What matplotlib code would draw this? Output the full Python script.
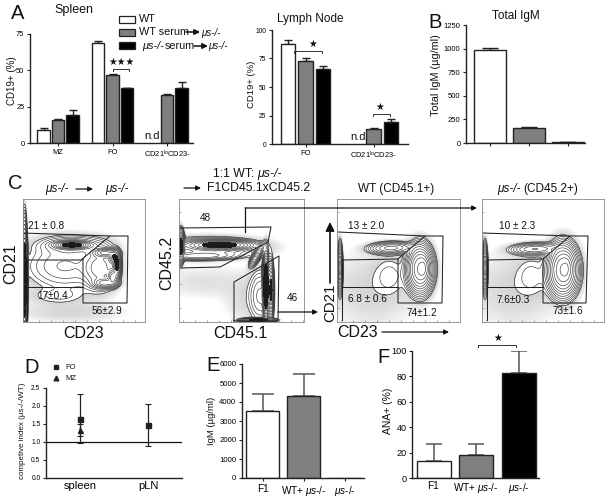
import numpy as np
import matplotlib
matplotlib.use("Agg")
import matplotlib.pyplot as plt
from matplotlib.colors import LinearSegmentedColormap

plt.rcParams['font.family'] = ['Liberation Sans', 'DejaVu Sans']
plt.rcParams['mathtext.fontset'] = 'custom'
plt.rcParams['mathtext.rm'] = 'Liberation Sans'
plt.rcParams['mathtext.it'] = 'Liberation Sans:italic'
plt.rcParams['mathtext.bf'] = 'Liberation Sans:bold'
plt.rcParams['mathtext.default'] = 'regular'

W, H = 610, 498
WHITE, GRAY, BLACK = 'white', '#7f7f7f', 'black'
CAT_COLORS = [WHITE, GRAY, BLACK]

# ---- values -------------------------------------------------------------
spleen_groups = ['MZ', 'FO', 'CD21$^{lo}$CD23-']
spleen_wt = [9, 68.5, None]
spleen_wt_err = [1.2, 2, None]
spleen_wts = [15.5, 46.5, 33]
spleen_wts_err = [0.8, 0.7, 0.5]
spleen_mu = [19, 37.5, 37.5]
spleen_mu_err = [3.5, 0.2, 4.5]

ln_groups = ['FO', 'CD21$^{lo}$CD23-']
ln_wt = [88, None]
ln_wt_err = [3.5, None]
ln_wts = [73, 13]
ln_wts_err = [2.5, 0.6]
ln_mu = [65.5, 19]
ln_mu_err = [2.5, 2.5]

igm_total = [990, 155, 10]
igm_total_err = [15, 17, 2]

ci_labels = ['spleen', 'pLN']
ci_fo = [1.65, 1.47]
ci_fo_low = [0.98, 0.88]
ci_fo_high = [2.32, 2.06]
ci_mz = [1.33]
ci_mz_low = [1.18]
ci_mz_high = [1.50]

igm_labels = ['F1', 'WT+ $\\mathit{μs}$-/-', '$\\mathit{μs}$-/-']
igm_vals = [3550, 4300, 0]
igm_errs = [850, 1150, 0]

ana_labels = ['F1', 'WT+ $\\mathit{μs}$-/-', '$\\mathit{μs}$-/-']
ana_vals = [13.5, 18, 83]
ana_errs = [13.5, 9, 17]

# flow-cytometry populations: centre x, centre y, sd x, sd y, correlation, height
pop_c1 = [(24.5, 280, 1.2, 24, 0, 3), (72, 245, 8, 1.8, 0, 1.5), (72, 245, 18, 5, 0, 0.12),
          (105, 253, 6, 2.2, 0, 0.7), (114, 257, 2.6, 3.5, 0, 0.8), (117, 265, 1.8, 6, 0, 1.2),
          (113, 277, 2.6, 4, 0, 0.8), (105, 283, 6, 2.5, 0, 0.5), (100, 268, 9, 11, 0, 0.25),
          (65, 266, 22, 13, 0, 0.1), (58, 296, 18, 5, 0, 0.03), (70, 312, 30, 6, 0, 0.016)]
pop_c2 = [(181, 246, 1.5, 7, 0, 1.5), (220, 245, 14, 2.2, 0, 1.6), (210, 247, 26, 5, 0, 0.2),
          (200, 256, 20, 2.2, -0.1, 0.25), (257, 255, 3.2, 5, -0.75, 0.7), (266, 286, 1.4, 14, 0, 3),
          (271, 290, 1.3, 13, 0, 1.2), (260, 296, 6, 14, 0, 0.1), (258, 320, 7, 0.9, 0, 2),
          (205, 282, 30, 10, 0, 0.009), (245, 300, 12, 14, 0, 0.012)]
pop_c3 = [(340, 268, 1.2, 11, 0, 0.8), (391, 248, 11, 3, -0.1, 0.35), (420, 269, 6, 11, 0, 1.5),
          (424, 268, 2.5, 6, 0, 0.5), (390, 275, 10, 12, 0, 0.028), (372, 290, 26, 22, 0, 0.016)]
pop_c4 = [(485, 268, 1.2, 11, 0, 0.8), (535, 249, 12, 3, -0.1, 0.3), (563, 270, 7, 12, 0, 1.5),
          (567, 268, 2.5, 7, 0, 0.3), (532, 275, 10, 12, 0, 0.028), (515, 290, 26, 22, 0, 0.016)]

# flow-cytometry gates, polylines in the picture's frame
gates_c1 = [[(23, 233), (110, 236), (81, 260), (27, 260)],
            [(110, 236), (128, 236), (127, 303), (83, 303), (83, 259)],
            [(27, 287), (83, 287)], [(27, 260), (27, 320)]]
gates_c2 = [[(179, 228), (271, 227), (268, 242), (220, 267), (179, 268)],
            [(234, 321), (234, 282), (279, 256), (278, 321), (234, 321)]]
gates_c3 = [[(338, 232), (425, 236), (398, 259), (342, 260)],
            [(425, 236), (443, 236), (442, 303), (398, 303), (398, 259)],
            [(342, 287), (398, 287)], [(342, 260), (342, 320)]]
gates_c4 = [[(483, 233), (570, 236), (543, 259), (487, 260)],
            [(570, 236), (588, 236), (586, 303), (543, 303), (543, 259)],
            [(487, 287), (543, 287)], [(487, 260), (487, 320)]]

fig = plt.figure(figsize=(W / 100, H / 100), dpi=100, facecolor='white')


def axes_px(x0, y0, x1, y1, **kw):
    return fig.add_axes([x0 / W, 1 - y1 / H, (x1 - x0) / W, (y1 - y0) / H], **kw)


def style(ax, lw=1.0, size=5.4):
    for s in ('top', 'right'):
        ax.spines[s].set_visible(False)
    for s in ('left', 'bottom'):
        ax.spines[s].set_linewidth(lw)
        ax.spines[s].set_color('#222222')
    ax.tick_params(length=2.5, width=0.8, labelsize=size, pad=1.5, color='#222222')
    ax.patch.set_alpha(0)


def bars(ax, xs, vals, errs, color, width, elw=1.0, ecol='#222222', ecap=3):
    for x, v, e in zip(xs, vals, errs):
        if v is None:
            continue
        ax.bar(x, v, width, color=color, edgecolor='#222222', linewidth=1.0, zorder=2)
        if e:
            ax.errorbar(x, v, yerr=[[0], [e]], color=ecol, elinewidth=elw, capsize=ecap,
                        capthick=elw, zorder=1)


# ---- A spleen ------------------------------------------------------------
ax = axes_px(30, 34, 193, 143)
style(ax)
pitch = 14.5 / 54.5
for k, (v, e) in enumerate([(spleen_wt, spleen_wt_err), (spleen_wts, spleen_wts_err), (spleen_mu, spleen_mu_err)]):
    bars(ax, [g + (k - 1) * pitch for g in range(3)], v, e, CAT_COLORS[k], 12.5 / 54.5)
ax.set_xlim(-0.514, 2.477)
ax.set_ylim(0, 75)
ax.set_yticks([0, 25, 50, 75])
ax.set_xticks(range(3), spleen_groups)

# ---- A lymph node --------------------------------------------------------
ax = axes_px(272, 30, 408, 144)
style(ax, size=4.8)
pitch = 17.5 / 68
for k, (v, e) in enumerate([(ln_wt, ln_wt_err), (ln_wts, ln_wts_err), (ln_mu, ln_mu_err)]):
    bars(ax, [g + (k - 1) * pitch for g in range(2)], v, e, CAT_COLORS[k], 14.5 / 68)
ax.set_xlim(-33.5 / 68, 102.5 / 68)
ax.set_ylim(0, 100)
ax.set_yticks([0, 25, 50, 75, 100])
ax.set_xticks(range(2), ln_groups)
ax.tick_params(axis='x', labelsize=5.4)

# ---- B -------------------------------------------------------------------
ax = axes_px(466, 25, 585, 143)
style(ax, size=5.5)
for k in range(3):
    bars(ax, [k], [igm_total[k]], [igm_total_err[k]], CAT_COLORS[k], 32 / 39, ecap=6)
ax.set_xlim(-23.5 / 39, 95.5 / 39)
ax.set_ylim(0, 1250)
ax.set_yticks([0, 250, 500, 750, 1000, 1250])
ax.set_xticks(range(3), ['', '', ''])


# ---- C -------------------------------------------------------------------
stipple = LinearSegmentedColormap.from_list('stipple', ['white', '#d2d2d2'])


def facs(box, pops, gates, dark=0.9):
    x0, y0, x1, y1 = box
    ax = axes_px(x0, y0, x1, y1)
    xx, yy = np.meshgrid(np.linspace(x0, x1, 366), np.linspace(y0, y1, 369))
    d = np.zeros_like(xx)
    for cx, cy, sx, sy, r, a in pops:
        u, v = (xx - cx) / sx, (yy - cy) / sy
        d += a * np.exp(-(u * u - 2 * r * u * v + v * v) / (2 * (1 - r * r)))
    low, floor = 0.02, 0.002
    shade = np.clip(np.log(d / floor + 1e-12) / np.log(low / floor), 0, 1)
    shade = np.where(d < low, shade, np.nan)
    ax.imshow(shade, extent=(x0, x1, y1, y0), cmap=stipple, vmin=0, vmax=1, aspect='auto',
              interpolation='bilinear', zorder=0)
    ax.contour(xx, yy, d, levels=np.geomspace(low, 3, 14), colors='#3a3a3a', linewidths=0.45, zorder=1)
    if d.max() > dark:
        ax.contourf(xx, yy, d, levels=[dark, 100], colors='#1c1c1c', zorder=1)
    for g in gates:
        px, py = zip(*g)
        ax.plot(px, py, color='#222222', lw=0.75, zorder=2)
    ax.set_xlim(x0, x1)
    ax.set_ylim(y1, y0)
    for s in ax.spines.values():
        s.set_linewidth(0.6)
        s.set_color('#888888')
    ax.set_xticks(np.arange(x0 + 4, x1, 12))
    ax.set_yticks(np.arange(y0 + 13, y1, 24))
    ax.tick_params(length=1.5, width=0.4, color='#666666', direction='in', labelbottom=False, labelleft=False)


facs((23, 199, 145, 322), pop_c1, gates_c1)
facs((179, 199, 304, 322), pop_c2, gates_c2)
facs((337, 199, 460, 322), pop_c3, gates_c3, dark=99)
facs((482, 199, 604, 322), pop_c4, gates_c4, dark=99)

# ---- D -------------------------------------------------------------------
ax = axes_px(46, 388, 182, 478)
style(ax, size=4.8)
xs = [0, 1]
ax.errorbar(xs, ci_fo, yerr=[np.subtract(ci_fo, ci_fo_low), np.subtract(ci_fo_high, ci_fo)], fmt='s',
            color='#222222', ms=3.6, elinewidth=0.9, capsize=2.2, capthick=0.8, zorder=3)
ax.errorbar(xs[:1], ci_mz, yerr=[np.subtract(ci_mz, ci_mz_low), np.subtract(ci_mz_high, ci_mz)], fmt='^',
            color='#222222', ms=3.6, elinewidth=0.9, capsize=2.2, capthick=0.8, zorder=3)
ax.axhline(1.0, color='#111111', lw=0.9)
ax.set_xlim(-34 / 68, 102 / 68)
ax.set_ylim(0, 2.5)
ax.set_yticks([0, 0.5, 1, 1.5, 2, 2.5], ['0.0', '0.5', '1.0', '1.5', '2.0', '2.5'])
ax.set_xticks(xs, ci_labels)
ax.tick_params(axis='x', labelsize=8, length=0, pad=2)

# ---- E -------------------------------------------------------------------
ax = axes_px(242, 364, 364, 478)
style(ax, size=5.6)
for k in range(3):
    bars(ax, [k], [igm_vals[k]], [igm_errs[k]], CAT_COLORS[k], 33 / 41, elw=1.1, ecol='#555555', ecap=8)
ax.set_xlim(-20.5 / 41, 101.5 / 41)
ax.set_ylim(0, 6000)
ax.set_yticks(range(0, 7000, 1000))
ax.set_xticks(range(3), igm_labels)
ax.tick_params(axis='x', labelsize=7.2, pad=2)

# ---- F -------------------------------------------------------------------
ax = axes_px(412, 351, 539, 478)
style(ax, size=6.6)
for k in range(3):
    bars(ax, [k], [ana_vals[k]], [ana_errs[k]], CAT_COLORS[k], 34 / 42.5, elw=1.1, ecol='#555555', ecap=6)
ax.set_xlim(-21.5 / 42.5, 105.5 / 42.5)
ax.set_ylim(0, 100)
ax.set_yticks(range(0, 120, 20))
ax.set_xticks(range(3), ana_labels)
ax.tick_params(axis='x', labelsize=7.2, pad=2, length=0)

# ---- overlay: letters, legend, titles, annotations ---------------------------
ov = axes_px(0, 0, W, H)
ov.set_xlim(0, W)
ov.set_ylim(H, 0)
ov.axis('off')
ov.patch.set_alpha(0)


def t(x, y, s, size=8, ha='left', va='center', **kw):
    ov.text(x, y, s, fontsize=size, ha=ha, va=va, color=kw.pop('color', '#111111'), **kw)


def arrow(x0, y0, x1, y1, lw=1.0, scale=8):
    ov.annotate('', xy=(x1, y1), xytext=(x0, y0),
                arrowprops=dict(arrowstyle='-|>', color='#111111', lw=lw, mutation_scale=scale,
                                shrinkA=0, shrinkB=0))


for x, y, s in [(11, 13, 'A'), (428, 22, 'B'), (8, 183, 'C'), (24, 367, 'D'), (206, 365, 'E'), (377, 357, 'F')]:
    t(x, y, s, size=14.5)

# rotated axis titles
for x, y, s, size in [(12, 81, 'CD19+ (%)', 7), (251, 84, 'CD19+ (%)', 6.8), (436, 75, 'Total IgM (µg/ml)', 7.8),
                      (23, 431, 'competive index (µs-/-/WT)', 5.8), (212, 421, 'IgM (µg/ml)', 6.8),
                      (388, 411, 'ANA+ (%)', 7.5)]:
    t(x, y, s, size, ha='center', rotation=90)

t(54, 10, 'Spleen', 9)
t(277, 19, 'Lymph Node', 8.5)
t(492, 16, 'Total IgM', 8.5)

# legend
for y, c in [(19.5, WHITE), (32, GRAY), (45.5, BLACK)]:
    ov.add_patch(plt.Rectangle((119, y - 3.5), 16, 7, fc=c, ec='#222222', lw=0.9))
t(139, 19, 'WT', 7.8)
t(139, 32, 'WT serum', 7.8)
arrow(186, 32, 200, 32, 1.1, 8)
t(201, 33, 'μs-/-', 7, style='italic')
t(142, 46, 'μs-/-', 7.8, style='italic')
t(165, 46, 'serum', 7.8)
arrow(194, 46, 208, 46, 1.1, 8)
t(208, 46, 'μs-/-', 7, style='italic')


def bracket(x0, x1, y, drop=2):
    ov.plot([x0, x0, x1, x1], [y + drop, y, y, y + drop], color='#333333', lw=0.7)


bracket(113, 129, 69)
t(121, 62, '★★★', 7, ha='center', family=['DejaVu Sans'])
bracket(294, 322, 51)
t(313, 44, '★', 7, ha='center', family=['DejaVu Sans'])
bracket(373, 390, 114)
t(380, 107, '★', 7, ha='center', family=['DejaVu Sans'])
t(144, 136, 'n.d', 8)
t(350, 137, 'n.d', 8)

# C texts
t(45, 189, 'μs-/-', 8.5, style='italic')
arrow(76, 189, 93, 189, 0.9, 7)
t(105, 189, 'μs-/-', 8.5, style='italic')
arrow(184, 188, 201, 188, 0.9, 7)
t(207, 188, 'F1CD45.1xCD45.2', 8.8)
t(213, 174, '1:1 WT:', 8.8)
t(257, 174, 'μs-/-', 8.8, style='italic')
t(396, 189, 'WT (CD45.1+)', 8.5, ha='center')
t(497, 189, 'μs-/-', 8.5, style='italic')
t(523, 189, '(CD45.2+)', 8.5)

t(11, 264, 'CD21', 11.5, ha='center', rotation=90)
t(84, 333, 'CD23', 11.5, ha='center')
t(167, 263, 'CD45.2', 11.5, ha='center', rotation=90)
t(240, 333, 'CD45.1', 11.5, ha='center')
t(330, 303, 'CD21', 10.8, ha='center', rotation=90)
t(358, 332, 'CD23', 11.5, ha='center')
arrow(330, 283, 330, 222, 1.2, 13)
arrow(382, 332, 449, 332, 0.9, 7)

for x, y, s in [(28, 226, '21 ± 0.8'), (37, 296, '17±0.4'), (92, 311, '56±2.9'), (200, 218, '48'),
                (287, 298, '46'), (348, 226, '13 ± 2.0'), (348, 299, '6.8 ± 0.6'), (407, 313, '74±1.2'),
                (499, 226, '10 ± 2.3'), (497, 300, '7.6±0.3'), (553, 311, '73±1.6')]:
    t(x, y, s, 7.2)

# arrows between C panels
ov.plot([245, 245], [232, 208], color='#111111', lw=0.9)
arrow(245, 208, 477, 208, 0.9, 7)
arrow(278, 312, 318, 312, 0.9, 7)

# D legend
ov.plot([56], [367], 's', color='#222222', ms=3.4)
ov.plot([56], [378], '^', color='#222222', ms=3.4)
t(65, 367, 'FO', 5.5)
t(65, 378, 'MZ', 5.5)

# F bracket
bracket(478, 516, 345, 2)
t(498, 338, '★', 7, ha='center', family=['DejaVu Sans'])

fig.savefig('out.png', dpi=100)
